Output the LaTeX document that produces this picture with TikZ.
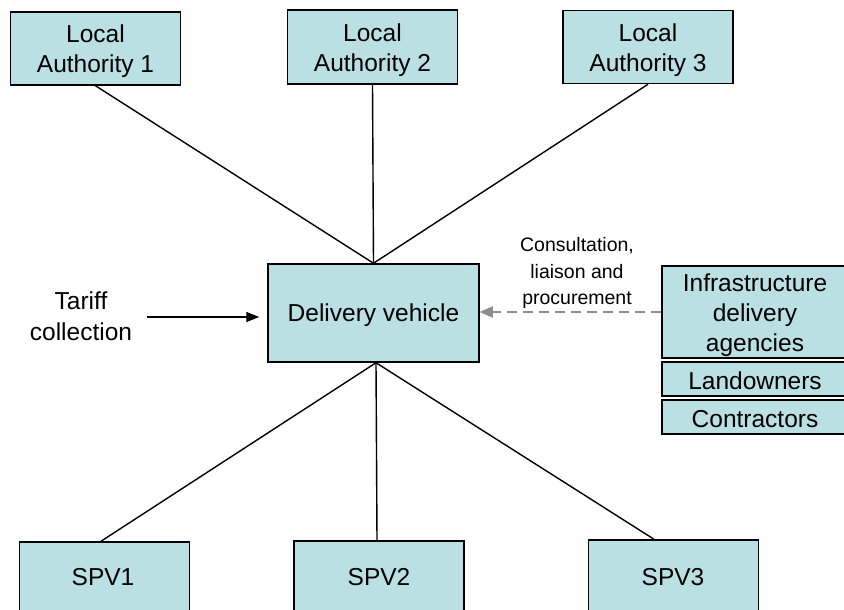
\documentclass[tikz,border=0pt]{standalone}
\usepackage{fontspec}
\setmainfont{Liberation Sans}
\usetikzlibrary{arrows.meta}
\definecolor{boxfill}{HTML}{BBE0E3}
\definecolor{dashgray}{HTML}{8C8C8C}
\tikzset{
  panel/.style={draw=black, line width=1.5pt, fill=boxfill, inner sep=0pt},
  caption/.style={inner sep=0pt, align=center, font=\fontsize{24.5}{30}\selectfont},
  small/.style={inner sep=0pt, align=center, font=\fontsize{19.5}{26.5}\selectfont},
  link/.style={draw=black, line width=1.4pt},
}
\begin{document}
\begin{tikzpicture}[x=1pt, y=-1pt]
  \useasboundingbox (0,0) rectangle (844,610);
  \clip (0,0) rectangle (844,610);

  % local authorities along the top
  \node[panel, minimum width=170pt, minimum height=73pt] (la1) at (95.5,48.5) {};
  \node[panel, minimum width=170pt, minimum height=74pt] (la2) at (372.5,47) {};
  \node[panel, minimum width=170pt, minimum height=73pt] (la3) at (648,47) {};
  \node[caption] (la1t) at ([yshift=-3pt]la1.center) {Local\\Authority 1};
  \node[caption] (la2t) at ([yshift=-3pt]la2.center) {Local\\Authority 2};
  \node[caption] (la3t) at ([yshift=-3pt]la3.center) {Local\\Authority 3};

  % central delivery vehicle
  \node[panel, minimum width=211pt, minimum height=98pt] (dv) at (373.5,313) {};
  \node[caption] (dvt) at ([yshift=-2pt]dv.center) {Delivery vehicle};

  % special purpose vehicles along the bottom
  \node[panel, minimum width=170pt, minimum height=100pt] (spv1) at (104.5,592) {};
  \node[panel, minimum width=170pt, minimum height=100pt] (spv2) at (379,591) {};
  \node[panel, minimum width=170pt, minimum height=100pt] (spv3) at (673.5,590) {};
  \node[caption] (spv1t) at (103,577) {SPV1};
  \node[caption] (spv2t) at (379,577) {SPV2};
  \node[caption] (spv3t) at (673,577) {SPV3};

  % external parties on the right
  \node[panel, minimum width=186pt, minimum height=92pt] (infra) at (755,312) {};
  \node[panel, minimum width=186pt, minimum height=34pt] (land) at (755,379) {};
  \node[panel, minimum width=186pt, minimum height=34pt] (contr) at (755,417) {};
  \node[caption] (infrat) at ([yshift=-3pt]infra.center) {Infrastructure\\delivery\\agencies};
  \node[caption] (landt) at ([yshift=-2pt]land.center) {Landowners};
  \node[caption] (contrt) at ([yshift=-2pt]contr.center) {Contractors};

  % side labels
  \node[caption, font=\fontsize{24.5}{31}\selectfont] (tariff) at (81,316) {Tariff\\collection};
  \node[small] (consult) at (577,273) {Consultation,\\liaison and\\procurement};

  % connectors
  \draw[link] (la1.south) -- (dv.north);
  \draw[link] (la2.south) -- (dv.north);
  \draw[link] (la3.south) -- (dv.north);
  \draw[link] ([xshift=2.5pt]dv.south) -- ([xshift=-3.5pt]spv1.north);
  \draw[link] ([xshift=2.5pt]dv.south) -- ([xshift=-2pt]spv2.north);
  \draw[link] ([xshift=2.5pt]dv.south) -- ([xshift=-19.5pt]spv3.north);

  \coordinate (tstart) at (147,317);
  \draw[link, shorten >=8pt, -{Triangle[length=13pt,width=10pt]}] (tstart) -- (tstart -| dv.west);

  \draw[dashgray, line width=2pt, dash pattern=on 10pt off 6pt,
        -{Triangle[length=13pt,width=11pt]}] (infra.west) -- (infra.west -| dv.east);
\end{tikzpicture}
\end{document}
